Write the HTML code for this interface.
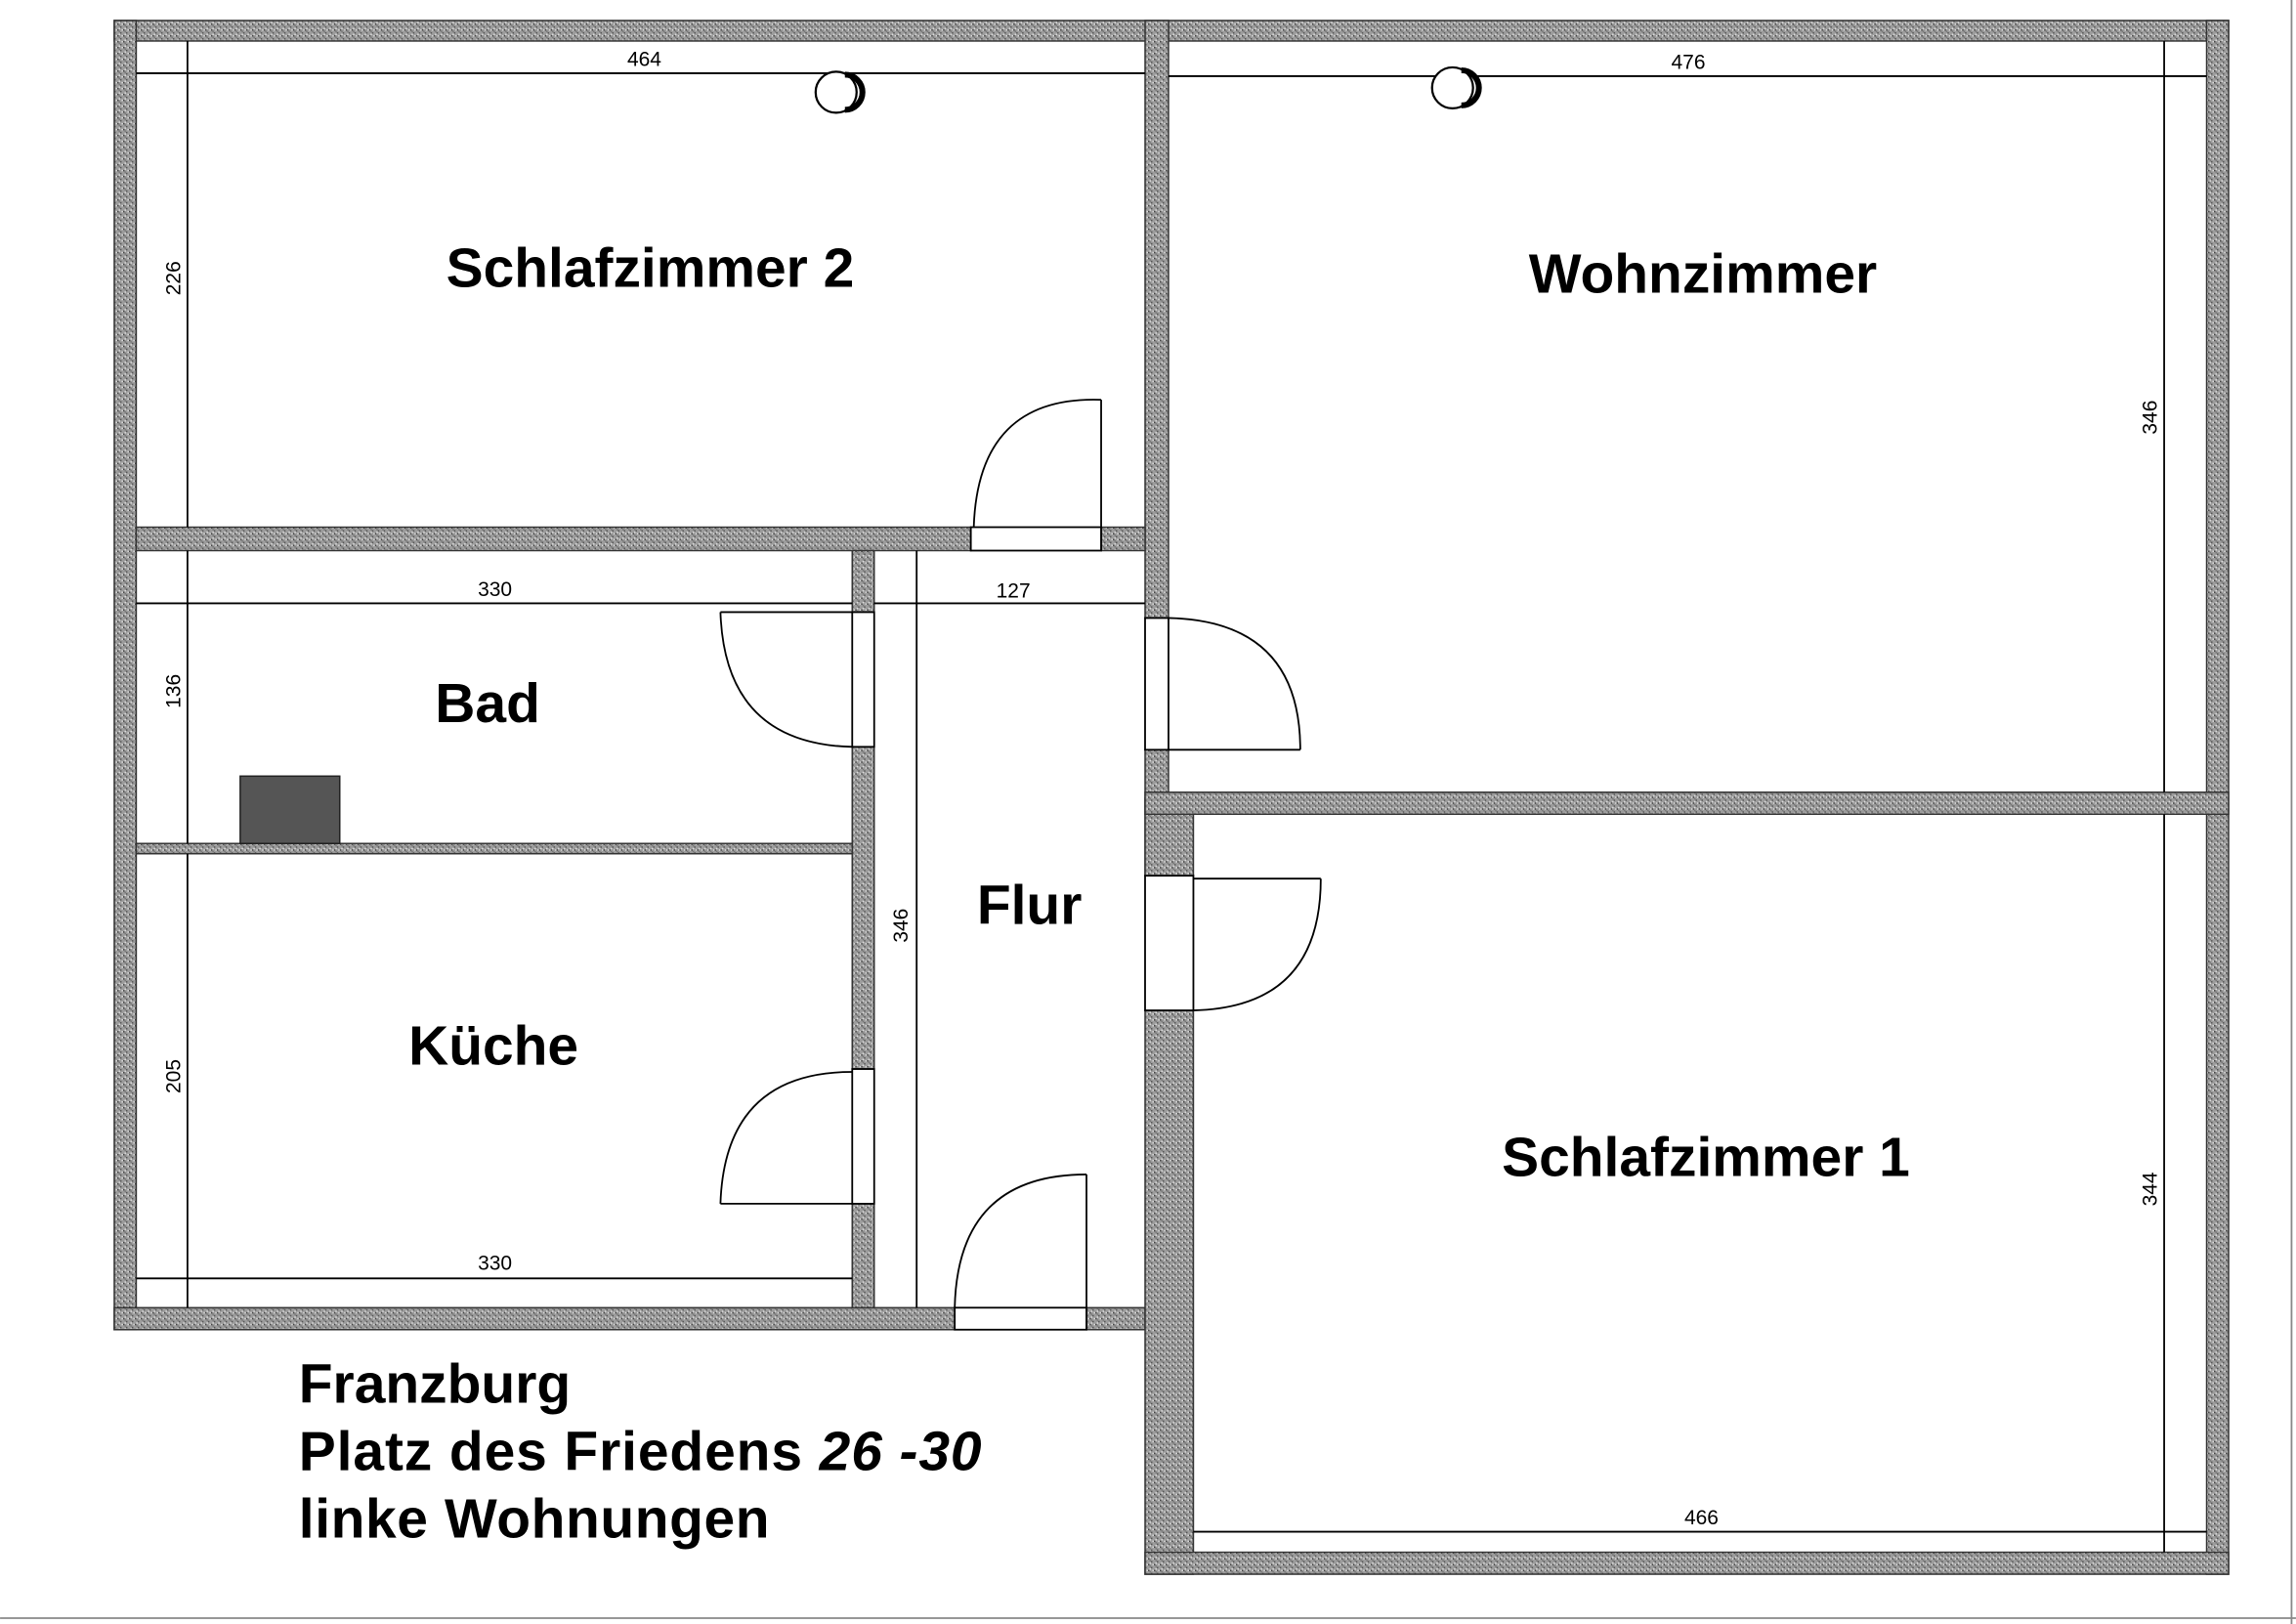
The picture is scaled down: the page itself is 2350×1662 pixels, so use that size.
<!DOCTYPE html>
<html><head><meta charset="utf-8"><style>
html,body{margin:0;padding:0;background:#fff;}
svg{display:block;}
text{font-family:"Liberation Sans",sans-serif;}
.lb{font-weight:bold;font-size:38px;text-anchor:middle;}
.dm{font-size:14px;text-anchor:middle;}
</style></head><body>
<svg width="2350" height="1662" viewBox="0 0 1568 1109" xmlns="http://www.w3.org/2000/svg">
<defs>
<pattern id="sp" width="4" height="4" patternUnits="userSpaceOnUse">
<rect width="4" height="4" fill="#9c9c9c"/>
<rect x="0" y="0" width="1" height="1" fill="#444"/>
<rect x="2" y="2" width="1" height="1" fill="#555"/>
<rect x="3" y="0" width="1" height="1" fill="#ddd"/>
<rect x="1" y="3" width="1" height="1" fill="#ddd"/>
<rect x="1" y="1" width="1" height="1" fill="#777"/>
</pattern>
</defs>
<rect width="1568" height="1109" fill="#fff"/>
<g fill="url(#sp)" stroke="#333" stroke-width="1">
<rect x="78" y="14" width="1444" height="14"/>
<rect x="78" y="14" width="15" height="894"/>
<rect x="1507" y="14" width="15" height="1061"/>
<rect x="78" y="893" width="574" height="15"/>
<rect x="742" y="893" width="40" height="15"/>
<rect x="782" y="14" width="16" height="408"/>
<rect x="782" y="512" width="16" height="86"/>
<rect x="782" y="545" width="33" height="53"/>
<rect x="782" y="690" width="33" height="385"/>
<rect x="782" y="1060" width="740" height="15"/>
<rect x="782" y="541" width="740" height="15"/>
<rect x="93" y="360" width="570" height="16"/>
<rect x="752" y="360" width="30" height="16"/>
<rect x="582" y="376" width="15" height="42"/>
<rect x="582" y="510" width="15" height="220"/>
<rect x="582" y="822" width="15" height="71"/>
<rect x="93" y="576" width="489" height="7"/>
</g>
<rect x="164" y="530" width="68" height="46" fill="#555" stroke="#222"/>
<g fill="none" stroke="#000" stroke-width="1.2">
<line x1="93" y1="50" x2="782" y2="50"/><line x1="128" y1="28" x2="128" y2="360"/>
<line x1="798" y1="52" x2="1507" y2="52"/><line x1="1478" y1="28" x2="1478" y2="541"/>
<line x1="93" y1="412" x2="582" y2="412"/><line x1="128" y1="376" x2="128" y2="576"/>
<line x1="93" y1="873" x2="582" y2="873"/><line x1="128" y1="583" x2="128" y2="893"/>
<line x1="597" y1="412" x2="782" y2="412"/><line x1="626" y1="376" x2="626" y2="893"/>
<line x1="815" y1="1046" x2="1507" y2="1046"/><line x1="1478" y1="556" x2="1478" y2="1060"/>
<rect x="663" y="360" width="89" height="16"/>
<line x1="752" y1="273" x2="752" y2="360"/><path d="M752 273 Q668 270 665 360"/>
<rect x="582" y="418" width="15" height="92"/>
<line x1="492" y1="418" x2="582" y2="418"/><path d="M492 418 Q495 508 582 510"/>
<rect x="582" y="730" width="15" height="92"/>
<line x1="492" y1="822" x2="582" y2="822"/><path d="M492 822 Q495 732 582 732"/>
<rect x="652" y="893" width="90" height="15"/>
<line x1="742" y1="802" x2="742" y2="893"/><path d="M742 802 Q654 802 652 893"/>
<rect x="782" y="422" width="16" height="90"/>
<line x1="798" y1="512" x2="888" y2="512"/><path d="M888 512 Q888 424 798 422"/>
<rect x="782" y="598" width="33" height="92"/>
<line x1="815" y1="600" x2="902" y2="600"/><path d="M902 600 Q902 688 815 690"/>
<line x1="0" y1="1105" x2="1568" y2="1105" stroke="#888"/>
<line x1="1565" y1="0" x2="1565" y2="1109" stroke="#888"/>
</g>
<g fill="#fff" stroke="#000" stroke-width="1.5">
<circle cx="571" cy="63" r="14"/><circle cx="992" cy="60" r="14"/>
</g>
<path d="M577 51 a12 12 0 0 1 0 24" stroke="#000" stroke-width="4" fill="none"/>
<path d="M998 48 a12 12 0 0 1 0 24" stroke="#000" stroke-width="4" fill="none"/>
<text class="dm" x="440" y="45">464</text>
<text class="dm" x="1153" y="47">476</text>
<text class="dm" x="338" y="407">330</text>
<text class="dm" x="692" y="408">127</text>
<text class="dm" x="338" y="867">330</text>
<text class="dm" x="1162" y="1041">466</text>
<text class="dm" transform="translate(123,190) rotate(-90)">226</text>
<text class="dm" transform="translate(123,472) rotate(-90)">136</text>
<text class="dm" transform="translate(123,735) rotate(-90)">205</text>
<text class="dm" transform="translate(620,632) rotate(-90)">346</text>
<text class="dm" transform="translate(1473,285) rotate(-90)">346</text>
<text class="dm" transform="translate(1473,812) rotate(-90)">344</text>
<text class="lb" x="444" y="196">Schlafzimmer 2</text>
<text class="lb" x="1163" y="200">Wohnzimmer</text>
<text class="lb" x="333" y="493">Bad</text>
<text class="lb" x="337" y="727">Küche</text>
<text class="lb" x="703" y="631">Flur</text>
<text class="lb" x="1165" y="803">Schlafzimmer 1</text>
<g font-weight="bold" font-size="38">
<text x="204" y="958">Franzburg</text>
<text x="204" y="1004" letter-spacing="0.6">Platz des Friedens <tspan font-style="italic">26 -30</tspan></text>
<text x="204" y="1050" letter-spacing="0.4">linke Wohnungen</text>
</g>
</svg>
</body></html>
